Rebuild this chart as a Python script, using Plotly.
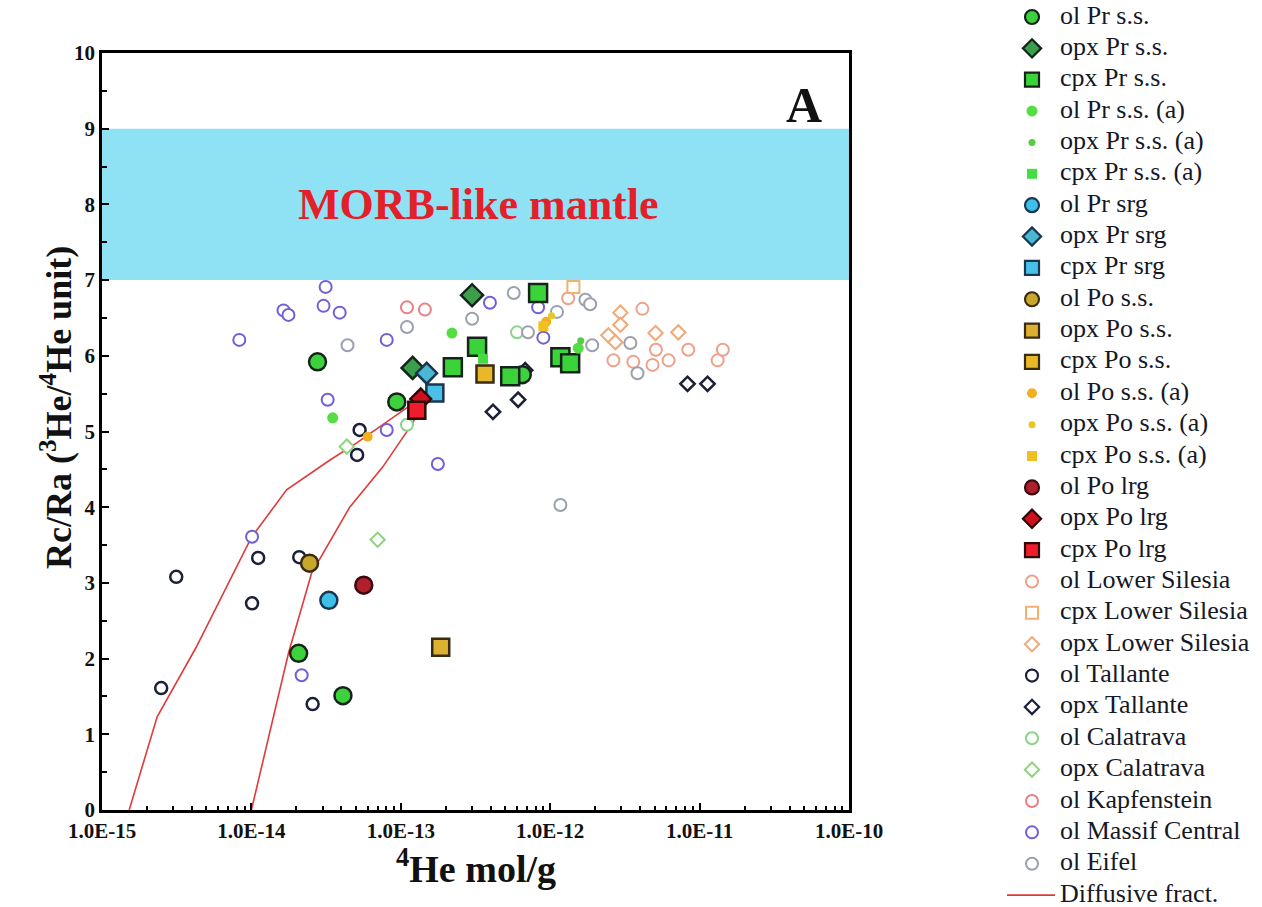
import plotly.graph_objects as go

W, H = 1262, 907
SERIF = "Liberation Serif"

# ---- data: 4He (mol/g) and Rc/Ra for each sample group ----
ol_pr_ss_x = [2.77e-14, 9.4e-14, 2.07e-14, 4.1e-14, 6.5e-13]
ol_pr_ss_y = [5.92, 5.39, 2.07, 1.51, 5.75]
opx_pr_ss_x = [3.0e-13, 1.2e-13]
opx_pr_ss_y = [6.80, 5.84]
cpx_pr_ss_x = [8.3e-13, 3.24e-13, 2.23e-13, 5.4e-13, 1.17e-12, 1.36e-12]
cpx_pr_ss_y = [6.83, 6.12, 5.85, 5.73, 5.98, 5.90]
ol_pr_ss_a_x = [3.5e-14, 2.2e-13, 1.54e-12]
ol_pr_ss_a_y = [5.18, 6.30, 6.10]
opx_pr_ss_a_x = [1.6e-12]
opx_pr_ss_a_y = [6.20]
cpx_pr_ss_a_x = [3.55e-13]
cpx_pr_ss_a_y = [5.96]
ol_pr_srg_x = [3.3e-14]
ol_pr_srg_y = [2.77]
opx_pr_srg_x = [1.49e-13]
opx_pr_srg_y = [5.77]
cpx_pr_srg_x = [1.69e-13]
cpx_pr_srg_y = [5.51]
ol_po_ss_x = [2.45e-14]
ol_po_ss_y = [3.26]
opx_po_ss_x = [1.85e-13]
opx_po_ss_y = [2.15]
cpx_po_ss_x = [3.66e-13]
cpx_po_ss_y = [5.76]
ol_po_ss_a_x = [6.0e-14, 9.4e-13]
ol_po_ss_a_y = [4.93, 6.45]
opx_po_ss_a_x = [1.02e-12]
opx_po_ss_a_y = [6.53]
cpx_po_ss_a_x = [9.0e-13]
cpx_po_ss_a_y = [6.39]
ol_po_lrg_x = [5.65e-14]
ol_po_lrg_y = [2.97]
opx_po_lrg_x = [1.36e-13]
opx_po_lrg_y = [5.43]
cpx_po_lrg_x = [1.28e-13]
cpx_po_lrg_y = [5.28]

ol_ls_x = [1.32e-12, 4.14e-12, 2.65e-12, 3.6e-12, 4.84e-12, 6.2e-12, 8.4e-12, 1.32e-11, 1.43e-11, 5.1e-12]
ol_ls_y = [6.76, 6.62, 5.94, 5.92, 5.88, 5.94, 6.08, 5.94, 6.08, 6.08]
cpx_ls_x = [1.43e-12]
cpx_ls_y = [6.91]
opx_ls_x = [2.95e-12, 2.95e-12, 2.45e-12, 2.73e-12, 5.07e-12, 7.2e-12]
opx_ls_y = [6.57, 6.41, 6.27, 6.18, 6.30, 6.31]
ol_tal_x = [2.49e-15, 3.14e-15, 1.01e-14, 1.11e-14, 2.09e-14, 2.57e-14, 5.3e-14, 5.1e-14]
ol_tal_y = [1.61, 3.08, 2.73, 3.33, 3.34, 1.40, 5.02, 4.69]
opx_tal_x = [4.14e-13, 6.1e-13, 6.8e-13, 8.3e-12, 1.13e-11]
opx_tal_y = [5.26, 5.42, 5.81, 5.63, 5.63]
ol_cal_x = [1.1e-13, 6.0e-13]
ol_cal_y = [5.09, 6.31]
opx_cal_x = [4.35e-14, 7.0e-14]
opx_cal_y = [4.80, 3.57]
ol_kap_x = [1.1e-13, 1.45e-13]
ol_kap_y = [6.64, 6.61]
ol_mc_x = [8.3e-15, 1.64e-14, 1.77e-14, 3.14e-14, 3.04e-14, 3.9e-14, 3.24e-14, 8.05e-14,
           8.05e-14, 1.01e-14, 2.17e-14, 1.77e-13, 3.95e-13, 8.3e-13, 9.0e-13]
ol_mc_y = [6.21, 6.60, 6.54, 6.91, 6.66, 6.57, 5.42, 6.21,
           5.02, 3.61, 1.78, 4.57, 6.70, 6.64, 6.24]
ol_eif_x = [4.4e-14, 1.1e-13, 3.0e-13, 5.7e-13, 7.1e-13, 1.11e-12, 1.72e-12, 1.85e-12,
            1.91e-12, 3.44e-12, 3.84e-12, 1.17e-12]
ol_eif_y = [6.14, 6.38, 6.49, 6.83, 6.31, 6.58, 6.74, 6.68,
            6.14, 6.17, 5.77, 4.03]

# diffusive fractionation curves
diff1_x = [1.52e-15, 2.34e-15, 4.27e-15, 7.57e-15, 1.0e-14, 1.72e-14, 3.34e-14, 5.07e-14, 9.4e-14, 1.45e-13]
diff1_y = [0.0, 1.23, 2.15, 3.13, 3.6, 4.23, 4.62, 4.85, 5.22, 5.48]
diff2_x = [1.0e-14, 1.38e-14, 1.77e-14, 2.53e-14, 4.55e-14, 7.56e-14, 1.2e-13, 1.45e-13]
diff2_y = [0.0, 1.19, 2.07, 3.13, 4.0, 4.53, 5.11, 5.44]

x_tickvals = [1e-15, 1e-14, 1e-13, 1e-12, 1e-11, 1e-10]
x_ticktext = ["1.0E-15", "1.0E-14", "1.0E-13", "1.0E-12", "1.0E-11", "1.0E-10"]

# ---- marker styles: (name, x, y, symbol, size, fill, edge, edge width) ----
DK = "#15241a"
series = [
    ("ol Pr s.s.", ol_pr_ss_x, ol_pr_ss_y, "circle", 17, "#3dd13d", DK, 2.5),
    ("opx Pr s.s.", opx_pr_ss_x, opx_pr_ss_y, "diamond", 17, "#3a9e4c", DK, 2.5),
    ("cpx Pr s.s.", cpx_pr_ss_x, cpx_pr_ss_y, "square", 18, "#3ad43a", DK, 2.5),
    ("ol Pr s.s. (a)", ol_pr_ss_a_x, ol_pr_ss_a_y, "circle", 11, "#55dd44", "#55dd44", 0),
    ("opx Pr s.s. (a)", opx_pr_ss_a_x, opx_pr_ss_a_y, "circle", 7, "#55cc44", "#55cc44", 0),
    ("cpx Pr s.s. (a)", cpx_pr_ss_a_x, cpx_pr_ss_a_y, "square", 10, "#44dd44", "#44dd44", 0),
    ("ol Pr srg", ol_pr_srg_x, ol_pr_srg_y, "circle", 17, "#3cc0e8", "#1a3550", 2.5),
    ("opx Pr srg", opx_pr_srg_x, opx_pr_srg_y, "diamond", 16, "#4ab8d2", "#1a3550", 2.5),
    ("cpx Pr srg", cpx_pr_srg_x, cpx_pr_srg_y, "square", 17, "#48c0e8", "#1a3550", 2.5),
    ("ol Po s.s.", ol_po_ss_x, ol_po_ss_y, "circle", 17, "#c8a82a", "#3a2a10", 2.5),
    ("opx Po s.s.", opx_po_ss_x, opx_po_ss_y, "square", 17, "#dcb030", "#3a2a10", 2.5),
    ("cpx Po s.s.", cpx_po_ss_x, cpx_po_ss_y, "square", 17, "#e8b828", "#3a2a10", 2.5),
    ("ol Po s.s. (a)", ol_po_ss_a_x, ol_po_ss_a_y, "circle", 10, "#f0b020", "#f0b020", 0),
    ("opx Po s.s. (a)", opx_po_ss_a_x, opx_po_ss_a_y, "circle", 7, "#e8c820", "#e8c820", 0),
    ("cpx Po s.s. (a)", cpx_po_ss_a_x, cpx_po_ss_a_y, "square", 10, "#f0c020", "#f0c020", 0),
    ("ol Po lrg", ol_po_lrg_x, ol_po_lrg_y, "circle", 17, "#b0202c", "#3a0a10", 2.5),
    ("opx Po lrg", opx_po_lrg_x, opx_po_lrg_y, "diamond", 16, "#d01020", "#300808", 2.5),
    ("cpx Po lrg", cpx_po_lrg_x, cpx_po_lrg_y, "square", 17, "#ee1c2c", "#300808", 2.5),
    ("ol Lower Silesia", ol_ls_x, ol_ls_y, "circle", 12, "white", "#f0a088", 2),
    ("cpx Lower Silesia", cpx_ls_x, cpx_ls_y, "square", 12, "white", "#f5b070", 2),
    ("opx Lower Silesia", opx_ls_x, opx_ls_y, "diamond", 11, "white", "#f0a878", 2),
    ("ol Tallante", ol_tal_x, ol_tal_y, "circle", 12, "white", "#1a1f3a", 2.5),
    ("opx Tallante", opx_tal_x, opx_tal_y, "diamond", 11, "white", "#1a1f3a", 2.5),
    ("ol Calatrava", ol_cal_x, ol_cal_y, "circle", 12, "white", "#88d488", 2),
    ("opx Calatrava", opx_cal_x, opx_cal_y, "diamond", 11, "white", "#90d080", 2),
    ("ol Kapfenstein", ol_kap_x, ol_kap_y, "circle", 12, "white", "#e88080", 2),
    ("ol Massif Central", ol_mc_x, ol_mc_y, "circle", 12, "white", "#7060d8", 2),
    ("ol Eifel", ol_eif_x, ol_eif_y, "circle", 12, "white", "#9aa0b0", 2),
]
CURVE_NAME = "Diffusive fract."
CURVE_COLOR = "#e03a3a"

fig = go.Figure()

# fractionation curves under the points
for cx, cy in [(diff1_x, diff1_y), (diff2_x, diff2_y)]:
    fig.add_trace(go.Scatter(x=cx, y=cy, mode="lines", line=dict(color=CURVE_COLOR, width=1.6),
                             showlegend=False, hoverinfo="skip"))

# literature data first, this study's samples on top
n_main = 18
draw_order = list(range(n_main, len(series))) + list(range(n_main))
for i in draw_order:
    name, xs, ys, sym, size, fill, edge, ew = series[i]
    fig.add_trace(go.Scatter(
        x=xs, y=ys, mode="markers", name=name, showlegend=False,
        marker=dict(symbol=sym, size=size, color=fill, line=dict(color=edge, width=ew)),
    ))

# ---- key on a hidden pixel-scaled axis pair at the right ----
KEY_X0 = 990
row_y = [17 + k * 31.36 for k in range(len(series) + 1)]
for k, (name, xs, ys, sym, size, fill, edge, ew) in enumerate(series):
    fig.add_trace(go.Scatter(
        x=[42], y=[row_y[k]], xaxis="x2", yaxis="y2", mode="markers", showlegend=False,
        marker=dict(symbol=sym, size=min(size, 14) if ew else size, color=fill,
                    line=dict(color=edge, width=min(ew, 2.2))),
        hoverinfo="skip",
    ))
fig.add_trace(go.Scatter(x=[17, 65], y=[row_y[-1]] * 2, xaxis="x2", yaxis="y2", mode="lines",
                         line=dict(color=CURVE_COLOR, width=1.6), showlegend=False, hoverinfo="skip"))
fig.add_trace(go.Scatter(
    x=[70] * len(row_y), y=row_y, xaxis="x2", yaxis="y2", mode="text",
    text=[s[0] for s in series] + [CURVE_NAME], textposition="middle right",
    textfont=dict(family=SERIF, size=26, color="#161826"), showlegend=False, hoverinfo="skip",
))

# plot frame in figure pixels
PL, PR, PT, PB = 102, 849, 53, 810

axis_font = dict(family=SERIF, size=21, color="#111111", weight="bold")
fig.update_layout(
    width=W, height=H,
    margin=dict(l=0, r=0, t=0, b=0, pad=0, autoexpand=False),
    paper_bgcolor="white", plot_bgcolor="white",
    showlegend=False,
    xaxis=dict(
        type="log", range=[-15, -10], domain=[PL / W, PR / W], automargin=False,
        tickvals=x_tickvals, ticktext=x_ticktext, tickfont=axis_font,
        ticks="inside", ticklen=7, tickwidth=2, tickcolor="black",
        minor=dict(ticks="inside", ticklen=4, tickwidth=1.5, tickcolor="black", dtick="D1"),
        showline=True, linewidth=2.5, linecolor="black", mirror=True,
        showgrid=False, zeroline=False,
    ),
    yaxis=dict(
        range=[0, 10], domain=[1 - PB / H, 1 - PT / H], automargin=False,
        dtick=1, tickfont=axis_font,
        ticks="inside", ticklen=7, tickwidth=2, tickcolor="black",
        minor=dict(ticks="inside", ticklen=5, tickwidth=1.5, tickcolor="black", dtick=0.5),
        showline=True, linewidth=2.5, linecolor="black", mirror=True,
        showgrid=False, zeroline=False,
    ),
    xaxis2=dict(domain=[KEY_X0 / W, 1], range=[0, W - KEY_X0], visible=False, anchor="y2"),
    yaxis2=dict(domain=[0, 1], range=[H, 0], visible=False, anchor="x2"),
    shapes=[dict(type="rect", xref="x domain", yref="y", x0=0, x1=1, y0=7, y1=9,
                 fillcolor="#8fe2f4", line=dict(width=0), layer="below")],
    annotations=[
        dict(x=-12.48, y=8.0, xref="x", yref="y", text="MORB-like mantle", showarrow=False,
             xanchor="center", yanchor="middle",
             font=dict(family=SERIF, size=44, color="#e3202a", weight="bold")),
        dict(x=-10.30, y=9.31, xref="x", yref="y", text="A", showarrow=False,
             xanchor="center", yanchor="middle",
             font=dict(family=SERIF, size=50, color="#111111", weight="bold")),
        # axis titles
        dict(x=(PL + PR) / 2 / W, y=1 - 866 / H, xref="paper", yref="paper",
             xanchor="center", yanchor="middle",
             text="<sup>4</sup>He mol/g", showarrow=False,
             font=dict(family=SERIF, size=38, color="#111111", weight="bold")),
        dict(x=56 / W, y=1 - 408 / H, xref="paper", yref="paper", textangle=-90,
             xanchor="center", yanchor="middle",
             text="Rc/Ra (<sup>3</sup>He/<sup>4</sup>He unit)", showarrow=False,
             font=dict(family=SERIF, size=36, color="#111111", weight="bold")),
    ],
)

fig.write_html("out.html")
